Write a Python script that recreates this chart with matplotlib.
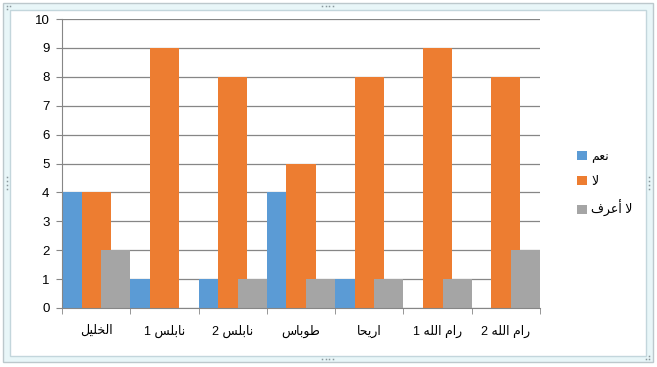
import matplotlib
matplotlib.use("Agg")
import numpy as np
import matplotlib.pyplot as plt
from matplotlib.patches import Rectangle, Patch
from matplotlib.lines import Line2D

plt.rcParams["font.family"] = ["Liberation Sans", "DejaVu Sans"]

categories = ["الخليل", "نابلس 1", "نابلس 2", "طوباس", "اريحا", "رام الله 1", "رام الله 2"]
series_names = ["نعم", "لا", "لا أعرف"]
yes_vals = [4, 1, 1, 4, 1, 0, 0]
no_vals = [4, 9, 8, 5, 8, 9, 8]
dunno_vals = [2, 0, 1, 1, 1, 1, 2]
colors = ["#5b9bd5", "#ed7d31", "#a5a5a5"]

# matplotlib has no Arabic shaping, so map letters to presentation forms by hand
# (isolated, final, initial, medial); two-form letters don't join to the next one
FORMS = {
    "ا": (0xFE8D, 0xFE8E), "أ": (0xFE83, 0xFE84),
    "ب": (0xFE8F, 0xFE90, 0xFE91, 0xFE92), "ح": (0xFEA1, 0xFEA2, 0xFEA3, 0xFEA4),
    "خ": (0xFEA5, 0xFEA6, 0xFEA7, 0xFEA8), "ر": (0xFEAD, 0xFEAE),
    "س": (0xFEB1, 0xFEB2, 0xFEB3, 0xFEB4), "ط": (0xFEC1, 0xFEC2, 0xFEC3, 0xFEC4),
    "ع": (0xFEC9, 0xFECA, 0xFECB, 0xFECC), "ف": (0xFED1, 0xFED2, 0xFED3, 0xFED4),
    "ل": (0xFEDD, 0xFEDE, 0xFEDF, 0xFEE0), "م": (0xFEE1, 0xFEE2, 0xFEE3, 0xFEE4),
    "ن": (0xFEE5, 0xFEE6, 0xFEE7, 0xFEE8), "ه": (0xFEE9, 0xFEEA, 0xFEEB, 0xFEEC),
    "و": (0xFEED, 0xFEEE), "ي": (0xFEF1, 0xFEF2, 0xFEF3, 0xFEF4),
}
LAM_ALEF = {"ا": (0xFEFB, 0xFEFC), "أ": (0xFEF7, 0xFEF8)}


def shape(text):
    out = []
    i = 0
    while i < len(text):
        c = text[i]
        if c not in FORMS:
            out.append(c)
            i += 1
            continue
        prev = text[i - 1] if i > 0 else None
        join_prev = prev in FORMS and len(FORMS[prev]) == 4
        if c == "ل" and i + 1 < len(text) and text[i + 1] in LAM_ALEF:
            iso, fin = LAM_ALEF[text[i + 1]]
            out.append(chr(fin if join_prev else iso))
            i += 2
            continue
        nxt = text[i + 1] if i + 1 < len(text) else None
        f = FORMS[c]
        join_next = len(f) == 4 and nxt in FORMS
        if join_prev and join_next:
            g = f[3]
        elif join_prev:
            g = f[1]
        elif join_next:
            g = f[2]
        else:
            g = f[0]
        out.append(chr(g))
        i += 1
    return "".join(reversed(out))


fig = plt.figure(figsize=(6.57, 3.67), dpi=100)

# selection-style frame around the chart
W, H = 657, 367
def px(x0, y0, x1, y1, **kw):
    return Rectangle((x0 / W, 1 - y1 / H), (x1 - x0) / W, (y1 - y0) / H,
                     transform=fig.transFigure, **kw)

fig.add_artist(px(3, 3, 653, 362, facecolor="#e8f6f8", edgecolor="#bcc8cc", lw=1, zorder=-10))
fig.add_artist(px(10, 10, 646, 356, facecolor="white", edgecolor="#c3d6dc", lw=1, zorder=-9))

dots = [(322, 6), (325.5, 6), (329, 6), (332.5, 6),
        (322, 359), (325.5, 359), (329, 359), (332.5, 359),
        (7, 177), (7, 181), (7, 185), (7, 189),
        (649, 177), (649, 181), (649, 185), (649, 189),
        (7, 6), (10, 6), (7, 9),
        (646, 359), (649, 359), (649, 356)]
for dx, dy in dots:
    fig.add_artist(Line2D([dx / W], [1 - dy / H], marker="s", ms=1.1, mew=0,
                          color="#8a979c", transform=fig.transFigure, zorder=-8))

ax = fig.add_axes([62 / W, 1 - 308 / H, (540 - 62) / W, (308 - 19) / H])
ax.patch.set_visible(False)

x = np.arange(len(categories))
width = 0.425
offsets = [-0.285, 0.0, 0.285]
for vals, name, col, off in zip([yes_vals, no_vals, dunno_vals], series_names, colors, offsets):
    ax.bar(x + off, vals, width, color=col, label=shape(name), zorder=2)

ax.set_xlim(-0.5, len(categories) - 0.5)
ax.set_ylim(0, 10)
ax.set_yticks(range(0, 11))
ax.yaxis.grid(True, color="#868686", lw=0.9, zorder=0)
ax.set_axisbelow(True)

ax.set_xticks(x)
ax.set_xticklabels([shape(c) for c in categories], fontsize=9)
ax.set_xticks(np.arange(-0.5, len(categories)), minor=True)
ax.tick_params(axis="x", which="major", length=0, pad=12)
ax.tick_params(axis="x", which="minor", length=4, color="#868686")
ax.tick_params(axis="y", length=4, color="#868686", labelsize=9.5, pad=5)

for s in ["top", "right"]:
    ax.spines[s].set_visible(False)
ax.spines["left"].set_color("#868686")
ax.spines["bottom"].set_color("#868686")

handles = [Patch(facecolor=c) for c in colors]
fig.legend(handles, [shape(n) for n in series_names], loc="upper left",
           bbox_to_anchor=(566 / W, 1 - 140 / H), frameon=False, fontsize=9,
           handlelength=0.75, handleheight=0.75, handletextpad=0.35, labelspacing=1.0)

fig.savefig("out.png", dpi=100)
